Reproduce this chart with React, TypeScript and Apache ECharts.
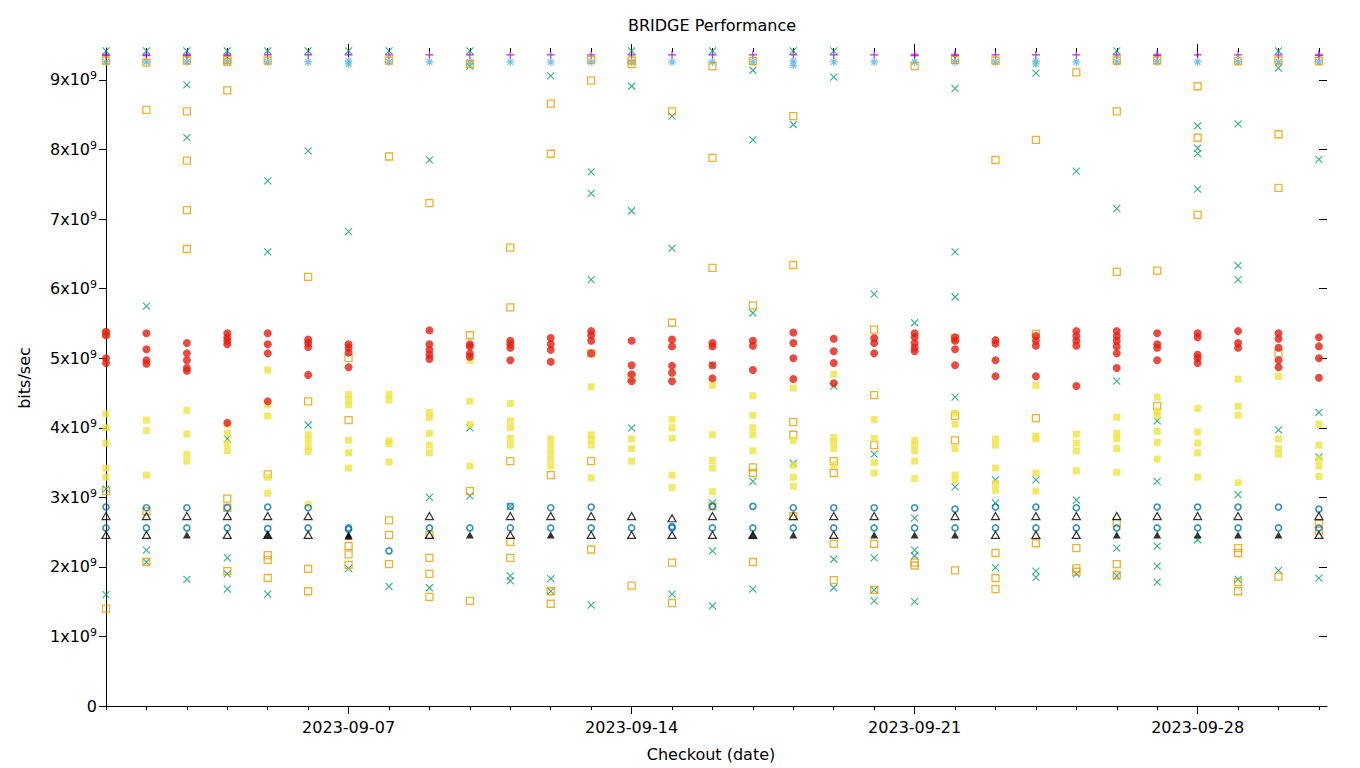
import React, { useEffect, useRef } from 'react';
import * as echarts from 'echarts';

// ---- axis / label data ----
const dates = [
  '2023-09-01', '2023-09-02', '2023-09-03', '2023-09-04', '2023-09-05', '2023-09-06', '2023-09-07',
  '2023-09-08', '2023-09-09', '2023-09-10', '2023-09-11', '2023-09-12', '2023-09-13', '2023-09-14',
  '2023-09-15', '2023-09-16', '2023-09-17', '2023-09-18', '2023-09-19', '2023-09-20', '2023-09-21',
  '2023-09-22', '2023-09-23', '2023-09-24', '2023-09-25', '2023-09-26', '2023-09-27', '2023-09-28',
  '2023-09-29', '2023-09-30', '2023-10-01',
];
const dayTicks = dates.map((_, i) => i + 1); // day 1 = 2023-09-01
const majorDays = [7, 14, 21, 28];
const yTicks = [0, 1, 2, 3, 4, 5, 6, 7, 8, 9]; // units of 10^9 bits/sec

// ---- series values (10^9 bits/sec), one list per checkout date ----
const purplePlus: number[][] = [
  [9.35, 9.37], [9.35, 9.37], [9.35, 9.37], [9.35, 9.37], [9.36], [9.36], [9.36], [9.36], [9.36], [9.36],
  [9.36], [9.36], [9.36], [9.36], [9.36], [9.36], [9.36], [9.36], [9.36], [9.36],
  [9.35, 9.37], [9.35, 9.37], [9.36], [9.36], [9.36], [9.36], [9.35, 9.37], [9.36], [9.36], [9.36], [9.35, 9.37],
];
const greenCross: number[][] = [
  [9.42, 3.12, 1.60], [9.42, 5.75, 2.24, 2.07], [9.42, 8.93, 8.17, 1.82], [9.42, 3.84, 2.13, 1.90, 1.68],
  [9.42, 7.55, 6.53, 1.61], [9.42, 7.98, 4.04], [9.42, 6.82, 1.98], [9.42, 1.72], [7.85, 3.00, 1.70],
  [9.42, 9.20, 4.00, 3.02], [2.87, 1.87, 1.80], [9.06, 1.83, 1.65], [7.68, 7.37, 6.13, 1.45],
  [9.42, 8.91, 7.12, 4.00], [8.48, 6.58, 1.61], [9.42, 4.90, 2.92, 2.23, 1.44], [9.14, 8.14, 5.65, 3.23, 1.68],
  [9.42, 8.36, 3.49], [9.42, 9.04, 4.60, 2.11, 1.70], [5.92, 3.62, 2.13, 1.67, 1.51],
  [5.51, 2.70, 2.24, 2.16, 1.50], [8.88, 6.53, 5.88, 4.44, 3.15], [3.25, 2.92, 1.99], [9.10, 3.25, 1.94, 1.85],
  [7.69, 2.96, 1.90], [9.42, 7.15, 4.67, 2.27, 1.87], [4.10, 3.23, 2.30, 2.01, 1.78],
  [8.34, 8.02, 7.94, 7.43, 2.39], [8.37, 6.33, 6.13, 3.04, 1.82], [9.42, 9.17, 3.97, 1.95], [7.86, 4.22, 3.58, 1.84],
];
const blueStar: number[][] = [
  [9.26], [9.26], [9.26], [9.26], [9.26], [9.26], [9.27, 9.23], [9.26], [9.26], [9.26],
  [9.26], [9.26], [9.26], [9.26], [9.26], [9.26], [9.26], [9.27, 9.21], [9.26], [9.26],
  [9.26], [9.26], [9.26], [9.27, 9.23], [9.26], [9.26], [9.26], [9.26], [9.26], [9.26], [9.26],
];
const orangeSquare: number[][] = [
  [9.28, 5.35, 3.09, 1.40], [9.25, 8.57, 2.80, 2.07], [9.28, 8.55, 7.84, 7.13, 6.57],
  [9.29, 9.26, 8.85, 2.98, 2.85, 1.94], [9.28, 3.33, 2.17, 2.10, 1.84], [6.17, 4.38, 1.97, 1.65],
  [5.00, 4.11, 2.30, 2.18, 2.03], [9.28, 7.90, 2.67, 2.46, 2.04], [7.23, 2.46, 2.13, 1.90, 1.57],
  [9.23, 5.33, 3.09, 1.51], [6.59, 5.73, 3.52, 2.36, 2.13], [8.66, 7.94, 3.32, 1.65, 1.47],
  [9.29, 8.99, 5.07, 3.52, 2.25], [9.28, 9.23, 4.72, 1.73], [8.55, 5.51, 2.06, 1.48],
  [9.20, 7.88, 6.30, 2.87], [9.27, 5.76, 3.43, 3.35, 2.07], [8.48, 6.34, 4.08, 3.90, 2.73],
  [3.52, 3.35, 2.33, 1.81], [5.41, 4.47, 3.75, 2.33, 1.67], [9.20, 2.06, 2.02],
  [9.29, 5.29, 4.17, 3.82, 1.95], [9.28, 7.85, 2.20, 1.84, 1.68], [8.14, 5.35, 4.14, 2.34],
  [9.11, 2.27, 1.98, 1.93], [9.28, 8.55, 6.24, 2.63, 2.04, 1.88], [9.28, 6.26, 4.31],
  [8.91, 8.17, 7.06], [9.27, 2.27, 2.20, 1.78, 1.65], [9.28, 8.22, 7.45, 5.07, 1.86], [9.27, 2.62, 2.52],
];
const yellowSquare: number[][] = [
  [4.20, 4.00, 3.78, 3.42, 3.29], [4.11, 3.96, 3.32], [4.25, 3.91, 3.62, 3.52], [4.05, 3.92, 3.77, 3.67],
  [4.83, 4.33, 4.17, 3.29, 3.06], [3.90, 3.82, 3.72, 3.66, 2.90], [4.48, 4.40, 4.33, 3.82, 3.64, 3.42],
  [4.48, 4.40, 3.81, 3.77, 3.51], [4.22, 4.15, 3.92, 3.75, 3.64], [4.97, 4.38, 4.05, 3.45],
  [4.35, 4.10, 4.00, 3.85, 3.75], [3.84, 3.75, 3.65, 3.55, 3.45], [4.59, 3.90, 3.83, 3.75, 3.28],
  [3.84, 3.70, 3.52], [4.12, 4.00, 3.85, 3.32, 3.14], [4.61, 3.90, 3.53, 3.42, 3.08],
  [4.46, 4.18, 4.00, 3.90, 3.67], [4.57, 3.82, 3.46, 3.29, 3.16], [4.77, 3.86, 3.80, 3.70, 3.47],
  [4.12, 3.85, 3.50, 3.35], [3.82, 3.75, 3.67, 3.52, 3.27], [4.21, 4.05, 3.70, 3.32, 3.25],
  [3.84, 3.75, 3.42, 3.20, 3.10], [4.61, 3.88, 3.84, 3.35, 3.09], [3.91, 3.78, 3.67, 3.38],
  [4.15, 3.92, 3.84, 3.70, 3.36], [4.44, 4.24, 4.18, 3.95, 3.79, 3.55], [4.28, 3.94, 3.78, 3.64, 3.29],
  [4.70, 4.31, 4.18, 3.21], [4.74, 3.84, 3.70, 3.62], [4.05, 3.75, 3.55, 3.45, 3.30],
];
const blueCircle: number[][] = [
  [2.86, 2.56], [2.85, 2.56], [2.85, 2.56], [2.85, 2.56], [2.86, 2.55], [2.85, 2.56], [2.56, 2.54],
  [2.23], [2.56], [2.56], [2.87, 2.56], [2.85, 2.56], [2.86, 2.56], [2.56], [2.56, 2.58],
  [2.87, 2.56], [2.87, 2.56], [2.85, 2.56], [2.85, 2.56], [2.85, 2.56], [2.85, 2.56], [2.83, 2.56],
  [2.86, 2.56], [2.86, 2.56], [2.85, 2.56], [2.56], [2.86, 2.56], [2.86, 2.56], [2.86, 2.56],
  [2.86, 2.56], [2.83, 2.56],
];
const redCircle: number[][] = [
  [5.38, 5.33, 5.00, 4.93], [5.36, 5.13, 4.97, 4.92], [5.22, 5.07, 4.97, 4.86, 4.82], [5.36, 5.30, 5.25, 5.20, 4.07],
  [5.36, 5.20, 5.07, 4.38], [5.27, 5.22, 5.16, 4.76], [5.20, 5.15, 5.08, 4.87], [],
  [5.40, 5.20, 5.12, 5.05, 4.99], [5.20, 5.17, 5.07, 5.02], [5.25, 5.20, 5.15, 4.97], [5.29, 5.20, 5.12, 4.95],
  [5.39, 5.33, 5.25, 5.07], [5.25, 4.90, 4.77, 4.67], [5.27, 5.17, 4.89, 4.79, 4.67], [5.22, 5.17, 4.90, 4.71],
  [5.25, 5.18, 4.83], [5.37, 5.22, 5.00, 4.70], [5.28, 5.10, 4.93, 4.64], [5.29, 5.22, 5.07],
  [5.36, 5.30, 5.22, 5.15, 5.10], [5.30, 5.25, 5.13, 4.90], [5.26, 5.21, 4.97, 4.74], [5.32, 5.25, 5.18, 4.74],
  [5.39, 5.32, 5.25, 5.18, 4.60], [5.39, 5.32, 5.25, 5.17, 5.07, 4.86], [5.36, 5.20, 5.15, 4.97],
  [5.36, 5.30, 5.05, 5.00, 4.93], [5.39, 5.22, 5.15], [5.36, 5.28, 5.15, 4.97, 4.87], [5.30, 5.17, 5.00, 4.72],
];
const blackTriangle: number[][] = [
  [2.73, 2.46], [2.73, 2.46], [2.73], [2.73, 2.46], [2.73, 2.46], [2.73, 2.46], [], [], [2.73, 2.46], [],
  [2.73, 2.46], [2.73], [2.73, 2.46], [2.73, 2.46], [2.70, 2.46], [2.73, 2.46], [2.46], [2.73],
  [2.73, 2.46], [2.73], [], [2.73], [2.73, 2.46], [2.73, 2.46], [2.73, 2.46], [2.73], [2.73], [2.73],
  [2.73], [], [2.73, 2.46],
];
const blackFilledTriangle: number[][] = [
  [], [], [2.46], [], [2.46], [], [2.46, 2.44], [], [], [2.46], [], [2.46], [], [], [], [], [2.46], [2.46],
  [], [2.46], [2.46], [2.46], [], [], [], [2.46], [2.46], [2.46], [2.46], [2.46], [],
];

const FONT = 'DejaVu Sans';

const toPoints = (cols: number[][]) =>
  cols.flatMap((vals, i) => vals.map((v) => [dayTicks[i], v]));

const plusPath = 'path://M0,5L10,5M5,0L5,10';
const crossPath = 'path://M0,0L10,10M10,0L0,10';
const starPath = 'path://M0,5L10,5M5,0L5,10M1.5,1.5L8.5,8.5M8.5,1.5L1.5,8.5';

const X_MIN = 1;
const X_MAX = 31.2;
const Y_MAX = 9.46;

export default function App() {
  const ref = useRef<HTMLDivElement>(null);

  useEffect(() => {
    if (!ref.current) return;
    const chart = echarts.init(ref.current, undefined, { renderer: 'svg' });

    const stroke = (color: string, w = 1) => ({ color: 'rgba(0,0,0,0)', borderColor: color, borderWidth: w });

    const hiddenX = (position: string, extra: any) => ({
      type: 'value',
      position,
      min: X_MIN,
      max: X_MAX,
      axisLine: { show: false, onZero: false },
      axisLabel: { show: false },
      splitLine: { show: false },
      ...extra,
    });

    const option: any = {
      animation: false,
      backgroundColor: '#fff',
      grid: { left: 106, right: 33, top: 48, bottom: 62, containLabel: false },
      xAxis: [
        {
          type: 'value',
          position: 'bottom',
          min: X_MIN,
          max: X_MAX,
          axisLine: { show: true, onZero: false, lineStyle: { color: '#000', width: 1 } },
          axisTick: { show: true, inside: false, length: 4, customValues: dayTicks, lineStyle: { color: '#000' } },
          axisLabel: { show: false },
          splitLine: { show: false },
        },
        hiddenX('bottom', {
          axisTick: { show: true, inside: false, length: 8, customValues: majorDays, lineStyle: { color: '#000' } },
          axisLabel: {
            show: true,
            customValues: majorDays,
            formatter: (v: number) => dates[Math.round(v) - 1],
            fontFamily: FONT,
            fontSize: 16,
            color: '#000',
            margin: 13,
          },
        }),
        hiddenX('top', {
          axisTick: { show: true, inside: true, length: 4, customValues: dayTicks, lineStyle: { color: '#000' } },
        }),
        hiddenX('top', {
          axisTick: { show: true, inside: true, length: 9, customValues: majorDays, lineStyle: { color: '#000' } },
        }),
        hiddenX('top', {
          axisTick: { show: true, inside: false, length: 4, customValues: majorDays, lineStyle: { color: '#000' } },
        }),
      ],
      yAxis: [
        {
          type: 'value',
          position: 'left',
          min: 0,
          max: Y_MAX,
          axisLine: { show: true, onZero: false, lineStyle: { color: '#000', width: 1 } },
          axisTick: { show: true, inside: false, length: 7, customValues: yTicks, lineStyle: { color: '#000' } },
          axisLabel: {
            show: true,
            customValues: yTicks,
            margin: 9,
            formatter: (v: number) => (v === 0 ? '{m|0}' : `{m|${v}x10}{s|9}`),
            rich: {
              m: { fontFamily: FONT, fontSize: 16, color: '#000' },
              s: { fontFamily: FONT, fontSize: 11, color: '#000', verticalAlign: 'top', padding: [0, 0, 8, 0] },
            },
          },
          splitLine: { show: false },
        },
        {
          type: 'value',
          position: 'right',
          min: 0,
          max: Y_MAX,
          axisLine: { show: false, onZero: false },
          axisTick: { show: true, inside: true, length: 8, customValues: yTicks, lineStyle: { color: '#000' } },
          axisLabel: { show: false },
          splitLine: { show: false },
        },
      ],
      series: [
        {
          type: 'scatter', name: 'p1', data: toPoints(purplePlus), symbol: plusPath, symbolSize: 8,
          itemStyle: stroke('#9400d3', 1.2),
        },
        {
          type: 'scatter', name: 'p2', data: toPoints(greenCross), symbol: crossPath, symbolSize: 7,
          itemStyle: stroke('#009e73', 1.1),
        },
        {
          type: 'scatter', name: 'p3', data: toPoints(blueStar), symbol: starPath, symbolSize: 8,
          itemStyle: stroke('#56b4e9', 1.2),
        },
        {
          type: 'scatter', name: 'p4', data: toPoints(orangeSquare), symbol: 'rect', symbolSize: 7,
          itemStyle: stroke('#e69f00', 1.3),
        },
        {
          type: 'scatter', name: 'p5', data: toPoints(yellowSquare), symbol: 'rect', symbolSize: 7,
          itemStyle: { color: '#f0e442' },
        },
        {
          type: 'scatter', name: 'p6', data: toPoints(blueCircle), symbol: 'circle', symbolSize: 6,
          itemStyle: stroke('#0072b2', 1.6),
        },
        {
          type: 'scatter', name: 'p7', data: toPoints(redCircle), symbol: 'circle', symbolSize: 8,
          itemStyle: { color: '#e51e10' },
        },
        {
          type: 'scatter', name: 'p8', data: toPoints(blackTriangle), symbol: 'triangle', symbolSize: [8, 7],
          itemStyle: stroke('#000000', 1.2),
        },
        {
          type: 'scatter', name: 'p9', data: toPoints(blackFilledTriangle), symbol: 'triangle', symbolSize: [8, 7],
          itemStyle: { color: '#000000' },
        },
      ],
      graphic: [
        {
          type: 'text', x: 712, y: 25,
          style: { text: 'BRIDGE Performance', fontFamily: FONT, fontSize: 16, fill: '#000', align: 'center', verticalAlign: 'middle' },
        },
        {
          type: 'text', x: 711, y: 754,
          style: { text: 'Checkout (date)', fontFamily: FONT, fontSize: 16, fill: '#000', align: 'center', verticalAlign: 'middle' },
        },
        {
          type: 'text', x: 24, y: 378, rotation: Math.PI / 2,
          style: { text: 'bits/sec', fontFamily: FONT, fontSize: 16, fill: '#000', align: 'center', verticalAlign: 'middle' },
        },
      ],
    };

    chart.setOption(option);
    return () => chart.dispose();
  }, []);

  return (
    <div
      ref={ref}
      style={{ position: 'absolute', left: 0, top: 0, width: 1360, height: 768, background: '#fff' }}
    />
  );
}
